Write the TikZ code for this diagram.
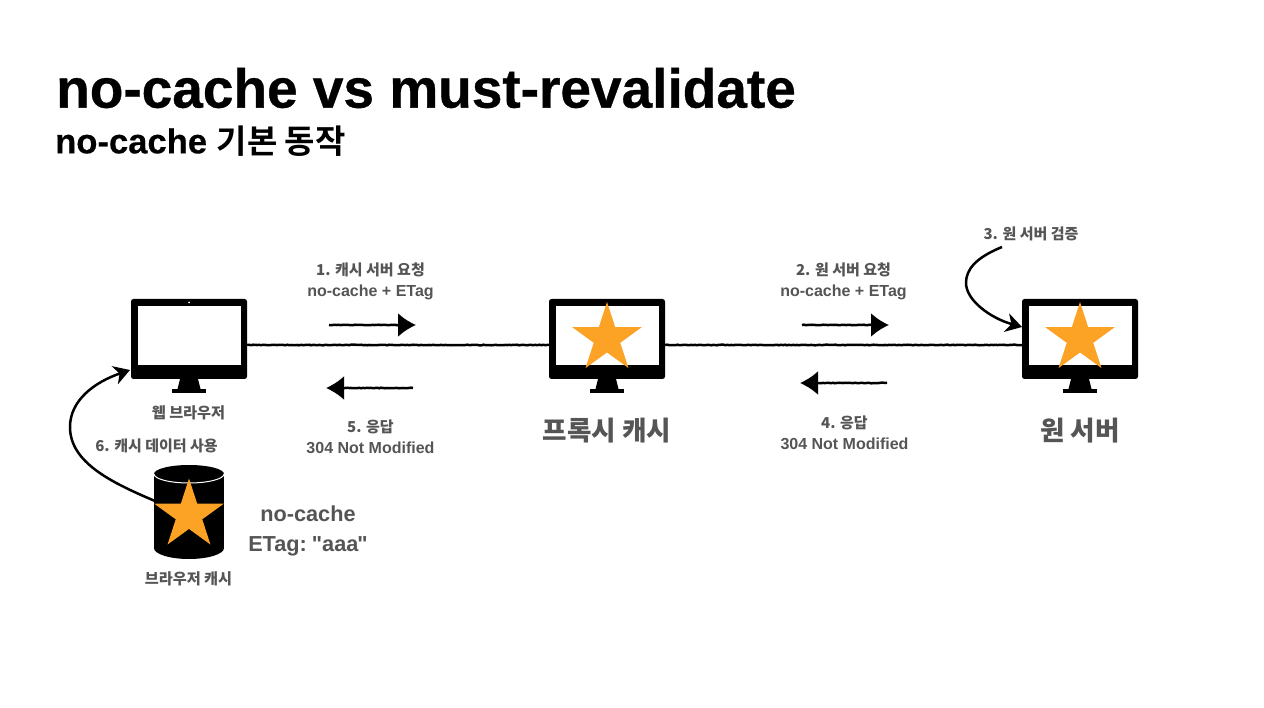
\documentclass[tikz,border=0pt]{standalone}
\usepackage{fontspec}
\setmainfont{Liberation Sans}[BoldFont={Liberation Sans Bold}]
\newfontfamily\krf{Noto Sans CJK KR Bold}
\newfontfamily\titlef[FakeBold=0.6]{Liberation Sans Bold}
\newfontfamily\subf[FakeBold=0.4]{Liberation Sans Bold}
\newfontfamily\qf{Liberation Sans Bold}
\newcommand{\kr}[1]{{\krf #1}}
\newcommand{\krs}[1]{{\krf\fontsize{15}{21}\selectfont #1}}
\usetikzlibrary{arrows.meta,decorations.pathmorphing,shapes.geometric}
\definecolor{starcol}{HTML}{FCA326}
\definecolor{labelcol}{HTML}{555555}
\tikzset{
  x=1pt,y=-1pt,
  monitor/.style={draw=none,minimum width=116pt,minimum height=80pt,inner sep=0pt},
  sketchy/.style={line width=2.5pt,black,decorate,decoration={random steps,segment length=2pt,amplitude=0.3pt}},
  tiphead/.style={-{Latex[length=18pt,width=24pt]}},
  curvehead/.style={-{Stealth[length=16pt,width=19pt,inset=5pt]}},
  curveline/.style={line width=2.5pt,black},
  lab/.style={text=labelcol,font=\bfseries\fontsize{16}{21}\selectfont,align=center,inner sep=0pt},
  big/.style={text=labelcol,font=\bfseries\fontsize{26.6}{30}\selectfont,align=center,inner sep=0pt},
  smalllab/.style={text=labelcol,font=\bfseries\fontsize{15.2}{18}\selectfont,inner sep=0pt},
  mid/.style={text=labelcol,font=\bfseries\fontsize{21.7}{30}\selectfont,align=center,inner sep=0pt},
}
\newcommand{\starat}[3]{% cx, cy, R
  \fill[starcol] plot[samples at={0,1,...,9}] ({#1+(mod(\x,2)==0?#3:#3*0.382)*sin(36*\x)},{#2-(mod(\x,2)==0?#3:#3*0.382)*cos(36*\x)}) -- cycle;
}
\newcommand{\screen}[2]{% left x, name
  \node[monitor] (#2) at (#1+58,339) {};
  \fill[black,rounded corners=2.5pt] (#1,299) rectangle (#1+116,379);
  \fill[white] (#1+6.5,306) rectangle (#1+110,365);
  \fill[black] (#1+49,379) -- (#1+67,379) -- (#1+70,391) -- (#1+46,391) -- cycle;
  \fill[black] (#1+41,389.5) rectangle (#1+75,393);
}
\begin{document}
\begin{tikzpicture}
\useasboundingbox (0,0) rectangle (1264,708);
\fill[white] (0,0) rectangle (1264,708);

\node[anchor=west,inner sep=0pt,font=\titlef\fontsize{55}{60}\selectfont] (title) at (56,88) {no-cache vs must-revalidate};
\node[anchor=west,inner sep=0pt,font=\subf\fontsize{34.6}{38}\selectfont] (subtitle) at (55,141) {no-cache \kr{\fontsize{33}{38}\selectfont 기본 동작}};

\screen{131}{browser}
\fill[white] (189,302.5) circle (1pt);
\screen{549}{proxy}
\starat{607}{338.5}{36.5}
\screen{1022}{origin}
\starat{1080}{338.5}{36.5}

% cache cylinder
\node[monitor,minimum width=70pt,minimum height=94pt] (cache) at (189,512) {};
\fill[black] (154,474) rectangle (224,548);
\fill[black] (189,474) ellipse[x radius=35,y radius=9];
\fill[black] (189,548) ellipse[x radius=35,y radius=11];
\draw[white,line width=1pt] (154,474) arc[x radius=35,y radius=9,start angle=180,end angle=0];
\starat{189}{515}{36.5}

% connectors
\draw[sketchy] ([yshift=-6pt]browser.east) -- ([yshift=-6pt]proxy.west);
\draw[sketchy] ([yshift=-6pt]proxy.east) -- ([yshift=-6pt]origin.west);

\coordinate (a1s) at (329,325); \coordinate (a1e) at (416,325);
\coordinate (a5s) at (413,388); \coordinate (a5e) at (326,388);
\coordinate (a2s) at (802,325); \coordinate (a2e) at (889,325);
\coordinate (a4s) at (887,383); \coordinate (a4e) at (800,383);
\draw[sketchy] (a1s) -- (400,325); \draw[line width=2.5pt,tiphead] (398,325) -- (a1e);
\draw[sketchy] (a5s) -- (342,388); \draw[line width=2.5pt,tiphead] (344,388) -- (a5e);
\draw[sketchy] (a2s) -- (873,325); \draw[line width=2.5pt,tiphead] (871,325) -- (a2e);
\draw[sketchy] (a4s) -- (816,383); \draw[line width=2.5pt,tiphead] (818,383) -- (a4e);

\coordinate (c3s) at (1002,247);
\coordinate (c3e) at (1022,327);
\coordinate (c6s) at (155,501);
\coordinate (c6e) at (130,370);
\draw[curveline,curvehead] (c3s) .. controls (975,258) and (966,270) .. (966,283) .. controls (966,300) and (990,318) .. (c3e);
\draw[curveline,curvehead] (c6s) .. controls (110,482) and (70,462) .. (70,427) .. controls (70,400) and (95,382) .. (c6e);

% labels
\node[lab] (l1) at (370.5,281) {\krs{1. 캐시 서버 요청}\\no-cache + ETag};
\node[lab] (l2) at (843.5,281) {\krs{2. 원 서버 요청}\\no-cache + ETag};
\node[lab] (l3) at (1031,233.5) {\krs{3. 원 서버 검증}};
\node[lab] (l4) at (844.5,432.5) {\krs{4. 응답}\\304 Not Modified};
\node[lab] (l5) at (370.5,436.5) {\krs{5. 응답}\\304 Not Modified};
\node[lab] (l6) at (156.5,445.5) {\krs{6. 캐시 데이터 사용}};
\node[smalllab] (l7) at (188.5,412.5) {\kr{웹 브라우저}};
\node[smalllab] (l8) at (188.5,578.5) {\kr{브라우저 캐시}};
\node[big] (l9) at (607,431) {\kr{프록시 캐시}};
\node[big] (l10) at (1080,431) {\kr{원 서버}};
\node[mid] (l11) at (308,531) {no-cache\\ETag:\hspace{-3pt} {\qf"}aaa{\hspace{-1pt}\qf"}};
\end{tikzpicture}
\end{document}
